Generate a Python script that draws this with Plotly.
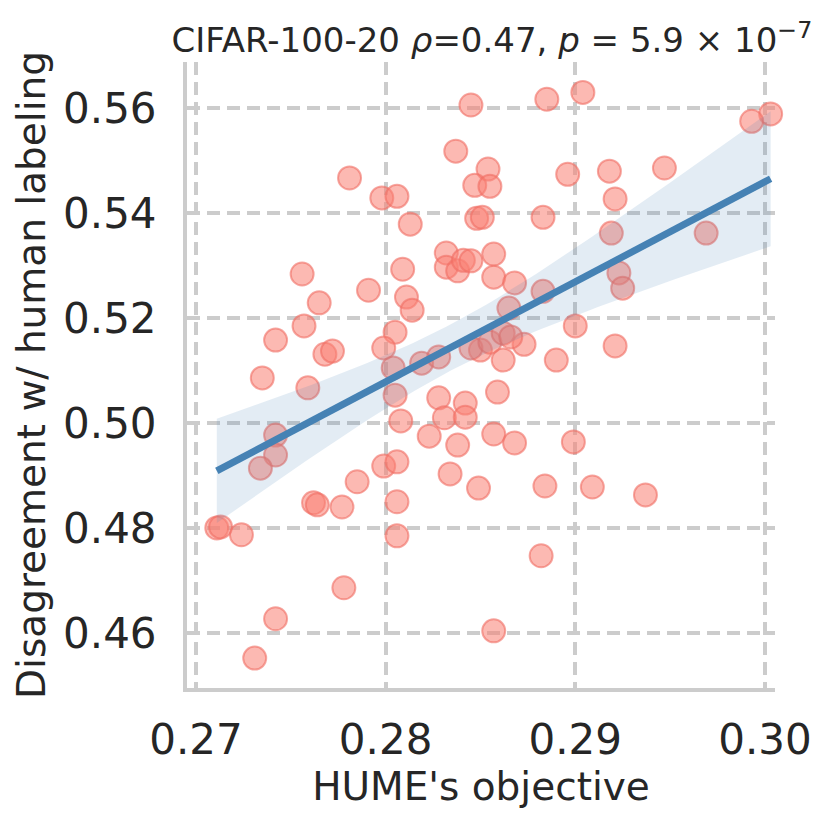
import numpy as np
import plotly.graph_objects as go

# HUME's objective (x) and disagreement with human labeling (y)
hume_objective = [
    0.3003, 0.2993, 0.2904, 0.2885, 0.2845, 0.2837, 0.2947, 0.2918, 0.2896, 0.2921,
    0.2854, 0.2847, 0.2855, 0.2848, 0.2851, 0.2883, 0.2781, 0.2798, 0.2806, 0.2813,
    0.2832, 0.2832, 0.2838, 0.2841, 0.2845, 0.2857, 0.2857, 0.2868, 0.2883, 0.2865,
    0.2919, 0.2969, 0.2923, 0.2925, 0.2900, 0.2921, 0.2890, 0.2873, 0.2862, 0.2850,
    0.2845, 0.2855, 0.2862, 0.2866, 0.2809, 0.2756, 0.2791, 0.2765, 0.2811, 0.2814,
    0.2742, 0.2757, 0.2768, 0.2772, 0.2735, 0.2759, 0.2805, 0.2799, 0.2804, 0.2819,
    0.2828, 0.2805, 0.2808, 0.2828, 0.2842, 0.2831, 0.2842, 0.2823, 0.2838, 0.2834,
    0.2849, 0.2742, 0.2742, 0.2734, 0.2785, 0.2799, 0.2806, 0.2762, 0.2764, 0.2777,
    0.2806, 0.2806, 0.2711, 0.2713, 0.2724, 0.2778, 0.2742, 0.2731, 0.2859, 0.2857,
    0.2868, 0.2899, 0.2884, 0.2909, 0.2937, 0.2882, 0.2857,
]
disagreement = [
    0.5589, 0.5575, 0.5630, 0.5617, 0.5606, 0.5518, 0.5486, 0.5480, 0.5474, 0.5427,
    0.5484, 0.5453, 0.5451, 0.5390, 0.5392, 0.5392, 0.5467, 0.5429, 0.5432, 0.5379,
    0.5324, 0.5297, 0.5290, 0.5310, 0.5309, 0.5322, 0.5278, 0.5267, 0.5251, 0.5219,
    0.5362, 0.5362, 0.5286, 0.5257, 0.5185, 0.5147, 0.5120, 0.5150, 0.5120, 0.5139,
    0.5143, 0.5154, 0.5171, 0.5164, 0.5293, 0.5284, 0.5253, 0.5229, 0.5240, 0.5215,
    0.5158, 0.5185, 0.5131, 0.5137, 0.5086, 0.5067, 0.5173, 0.5143, 0.5105, 0.5114,
    0.5126, 0.5053, 0.5004, 0.5048, 0.5038, 0.5010, 0.5011, 0.4975, 0.4958, 0.4903,
    0.4876, 0.4977, 0.4939, 0.4914, 0.4888, 0.4918, 0.4926, 0.4848, 0.4844, 0.4840,
    0.4850, 0.4785, 0.4800, 0.4802, 0.4787, 0.4686, 0.4627, 0.4552, 0.5059, 0.4979,
    0.4962, 0.4964, 0.4880, 0.4878, 0.4863, 0.4747, 0.4604,
]

x_ticks = [0.27, 0.28, 0.29, 0.30]
x_tick_labels = ["0.27", "0.28", "0.29", "0.30"]
y_ticks = [0.46, 0.48, 0.50, 0.52, 0.54, 0.56]
y_tick_labels = ["0.46", "0.48", "0.50", "0.52", "0.54", "0.56"]

title_text = "CIFAR-100-20 <i>ρ</i>=0.47, <i>p</i> = 5.9 × 10<sup>−7</sup>"
x_title = "HUME's objective"
y_title = "Disagreement w/ human labeling"

# Linear regression with 95% confidence band
x = np.array(hume_objective)
y = np.array(disagreement)
n = len(x)
slope, intercept = np.polyfit(x, y, 1)
xs = np.linspace(x.min(), x.max(), 100)
ys = slope * xs + intercept
resid = y - (slope * x + intercept)
s = np.sqrt(np.sum(resid ** 2) / (n - 2))
sxx = np.sum((x - x.mean()) ** 2)
t_crit = 1.985
half = t_crit * s * np.sqrt(1.0 / n + (xs - x.mean()) ** 2 / sxx)

FONT = "DejaVu Sans"
TXT = "#262626"
GRID = "#cccccc"
W, H = 822, 816  # page body adds an 8px offset

fig = go.Figure()
fig.add_trace(go.Scatter(
    x=x, y=y, mode="markers", cliponaxis=False,
    marker=dict(size=23, color="rgba(250,128,114,0.55)",
                line=dict(color="rgba(240,110,100,0.6)", width=2)),
    showlegend=False, hoverinfo="skip",
))
fig.add_trace(go.Scatter(
    x=xs, y=ys - half, mode="lines", line=dict(width=0, color="rgba(0,0,0,0)"),
    showlegend=False, hoverinfo="skip",
))
fig.add_trace(go.Scatter(
    x=xs, y=ys + half, mode="lines", line=dict(width=0, color="rgba(0,0,0,0)"),
    fill="tonexty", fillcolor="rgba(70,130,180,0.15)",
    showlegend=False, hoverinfo="skip",
))
fig.add_trace(go.Scatter(
    x=xs, y=ys, mode="lines", line=dict(color="#4682B4", width=7),
    cliponaxis=False, showlegend=False, hoverinfo="skip",
))

fig.update_layout(
    width=W, height=H,
    margin=dict(l=179, r=55, t=54, b=136, autoexpand=False),
    paper_bgcolor="white", plot_bgcolor="white",
    font=dict(family=FONT, color=TXT),
    title=dict(text=title_text, x=484 / W, xanchor="center",
               y=1 - 32 / H, yanchor="middle", automargin=False,
               font=dict(size=34, family=FONT, color=TXT)),
)
fig.update_xaxes(
    range=[0.26953, 0.30053],
    tickvals=x_ticks, ticktext=x_tick_labels,
    tickfont=dict(size=42, family=FONT, color=TXT),
    title=dict(text=x_title, font=dict(size=39, family=FONT, color=TXT), standoff=6),
    showgrid=True, gridcolor=GRID, griddash="13px,7px", gridwidth=3.5,
    showline=True, linecolor=GRID, linewidth=4,
    ticks="outside", ticklen=12, tickcolor="rgba(0,0,0,0)",
    zeroline=False, automargin=False,
)
fig.update_yaxes(
    range=[0.4495, 0.5688],
    tickvals=y_ticks, ticktext=y_tick_labels,
    tickfont=dict(size=42, family=FONT, color=TXT),
    title=dict(text=y_title, font=dict(size=39, family=FONT, color=TXT), standoff=6),
    showgrid=True, gridcolor=GRID, griddash="13px,7px", gridwidth=3.5,
    showline=True, linecolor=GRID, linewidth=4,
    ticks="outside", ticklen=18, tickcolor="rgba(0,0,0,0)",
    zeroline=False, automargin=False,
)

fig.write_html("out.html")
